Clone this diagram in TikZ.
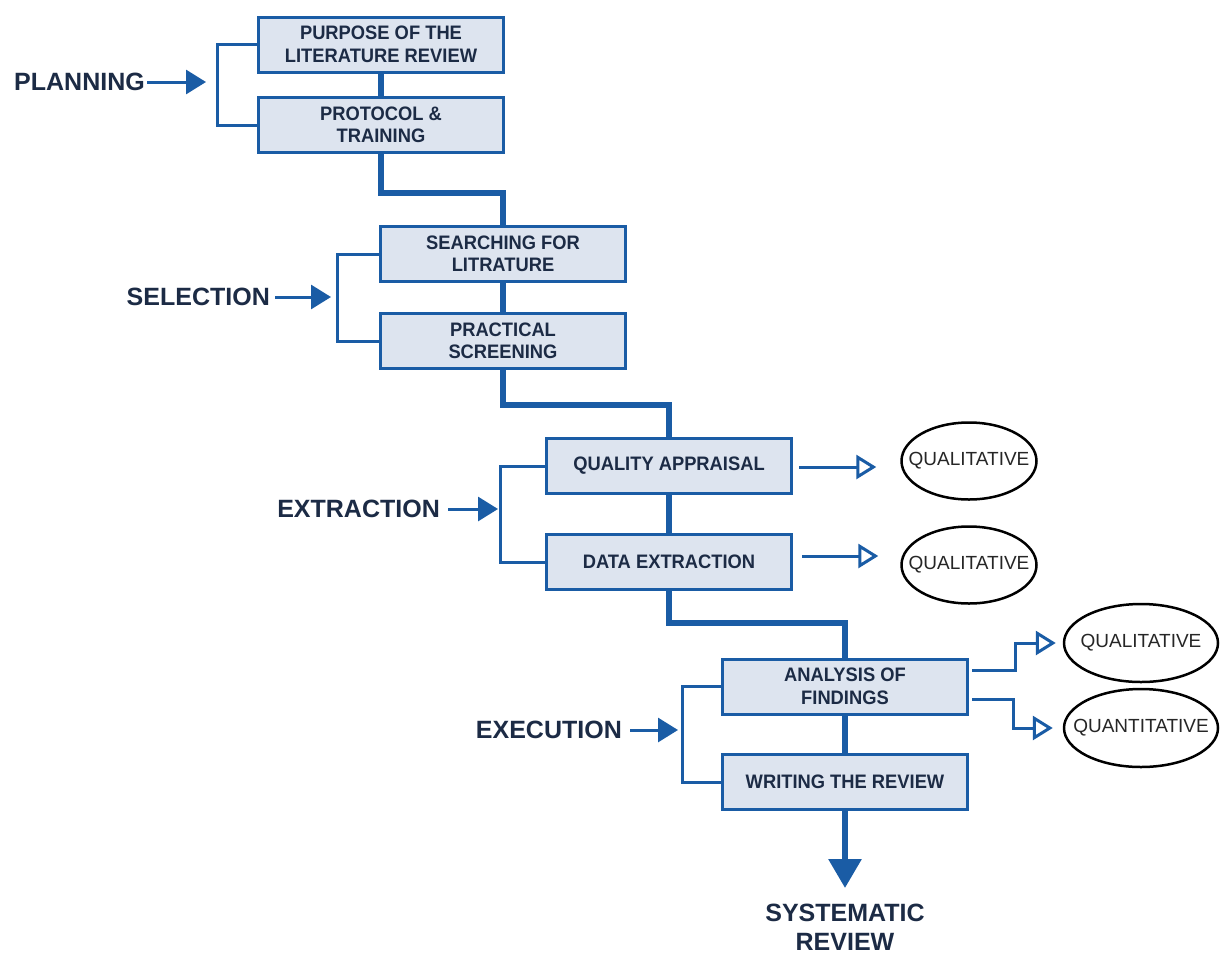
\documentclass[tikz,border=0pt]{standalone}
\usepackage{fontspec}
\setmainfont{Liberation Sans}
\newfontfamily\stepfont{Liberation Sans}[FakeStretch=0.94]
\usetikzlibrary{arrows.meta,shapes.geometric}
\definecolor{flowblue}{HTML}{1A5CA5}
\definecolor{boxfill}{HTML}{DDE4EF}
\definecolor{inktext}{HTML}{1C2B45}

\begin{document}
\begin{tikzpicture}[x=1pt,y=-1pt,
  stepbox/.style={draw=flowblue, fill=boxfill, line width=3pt, minimum width=245pt,
    minimum height=55pt, inner sep=0pt, align=center, text=inktext,
    font=\stepfont\fontsize{19.5}{22.5}\selectfont\bfseries},
  phase/.style={text=inktext, font=\fontsize{25}{29}\selectfont\bfseries,
    inner sep=0pt, align=center},
  outcome/.style={ellipse, draw=black, fill=white, line width=2.5pt, inner sep=0pt,
    font=\fontsize{19}{21}\selectfont, text=black!85},
  flow/.style={draw=flowblue, line width=6pt},
  brace/.style={draw=flowblue, line width=3pt},
  feed/.style={draw=flowblue, line width=3pt, -{Triangle[length=20pt,width=24pt]}},
  branch/.style={draw=flowblue, line width=3pt,
    -{Triangle[open,length=20pt,width=24pt,fill=white]}},
]
\useasboundingbox[fill=white] (0,0) rectangle (1224,954);

% process steps
\node[stepbox] (b1) at (381,44.5) {PURPOSE OF THE\\LITERATURE REVIEW};
\node[stepbox] (b2) at (381,125)  {PROTOCOL \&\\TRAINING};
\node[stepbox] (b3) at (503,254)  {SEARCHING FOR\\LITRATURE};
\node[stepbox] (b4) at (503,341)  {PRACTICAL\\SCREENING};
\node[stepbox] (b5) at (669,466)  {QUALITY APPRAISAL};
\node[stepbox] (b6) at (669,562)  {DATA EXTRACTION};
\node[stepbox] (b7) at (845,686.5) {ANALYSIS OF\\FINDINGS};
\node[stepbox] (b8) at (845,782)  {WRITING THE REVIEW};

% outcomes
\node[outcome, minimum width=135pt, minimum height=77pt] (e1) at (969,461) {\makebox[0pt]{QUALITATIVE}};
\node[outcome, minimum width=135pt, minimum height=77pt] (e2) at (969,565) {\makebox[0pt]{QUALITATIVE}};
\node[outcome, minimum width=154pt, minimum height=78pt] (e3) at (1141,643) {\makebox[0pt]{QUALITATIVE}};
\node[outcome, minimum width=154pt, minimum height=78pt] (e4) at (1141,728) {\makebox[0pt]{QUANTITATIVE}};

% phase labels
\node[phase, anchor=east] (plan) at (145,82)  {PLANNING};
\node[phase, anchor=east] (sel)  at (270,297) {SELECTION};
\node[phase, anchor=east] (ext)  at (440,509) {EXTRACTION};
\node[phase, anchor=east] (exe)  at (622,730) {EXECUTION};
\node[phase] (rev) at (845,927) {SYSTEMATIC\\REVIEW};

% main flow
\draw[flow] (b1.south) -- (b2.north);
\draw[flow] (b2.south) -- ++(0,39) -| (b3.north);
\draw[flow] (b3.south) -- (b4.north);
\draw[flow] (b4.south) -- ++(0,35) -| (b5.north);
\draw[flow] (b5.south) -- (b6.north);
\draw[flow] (b6.south) -- ++(0,32) -| (b7.north);
\draw[flow] (b7.south) -- (b8.north);
\coordinate (fin) at (845,888);
\draw[flow, -{Triangle[length=29pt,width=32pt]}] (b8.south) -- (fin);

% brackets grouping each phase
\draw[brace] (b1.west) -- ++(-40,0) |- (b2.west);
\draw[brace] (b3.west) -- ++(-42,0) |- (b4.west);
\draw[brace] (b5.west) -- ++(-45,0) |- (b6.west);
\draw[brace] (b7.west) -- ++(-39,0) |- (b8.west);

% phase arrows
\coordinate (t1) at (206,82);
\coordinate (t2) at (331,297);
\coordinate (t3) at (498,509);
\coordinate (t4) at (678,730);
\draw[feed] ([xshift=2pt]plan.east) -- (t1);
\draw[feed] ([xshift=5pt]sel.east) -- (t2);
\draw[feed] ([xshift=8pt]ext.east) -- (t3);
\draw[feed] ([xshift=8pt]exe.east) -- (t4);

% branches to outcomes
\coordinate (s5) at ([xshift=6pt,yshift=-1pt]b5.east);
\coordinate (s6) at ([xshift=9pt,yshift=6pt]b6.east);
\draw[branch, shorten >=24pt] (s5) -- (s5 -| e1.west);
\draw[branch, shorten >=22pt] (s6) -- (s6 -| e2.west);
\coordinate (s7a) at ([xshift=3pt,yshift=16pt]b7.east);
\coordinate (s7b) at ([xshift=3pt,yshift=-13pt]b7.east);
\draw[branch, shorten >=7pt] (s7a) -- ++(43,0) |- (e3.west);
\draw[branch, shorten >=10pt] (s7b) -- ++(41,0) |- (e4.west);
\end{tikzpicture}
\end{document}
